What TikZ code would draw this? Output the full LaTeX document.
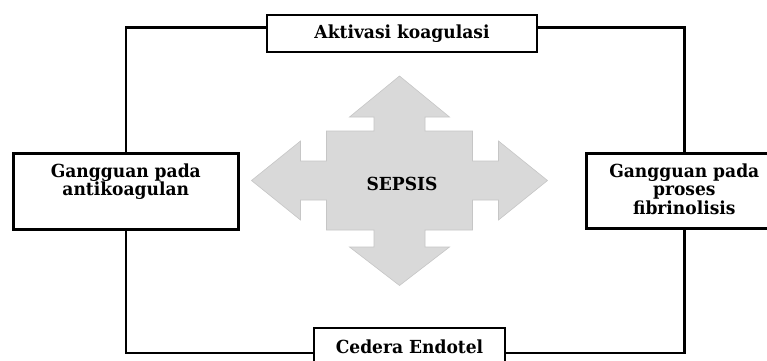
\documentclass[tikz,border=0pt]{standalone}
\usepackage{fontspec}
\setmainfont{DejaVu Serif}[FakeStretch=0.95]
\definecolor{sepsisgray}{RGB}{217,217,217}
\begin{document}
\begin{tikzpicture}[x=1pt,y=-1pt,
  box/.style={draw, line width=2.6pt, fill=white, inner sep=0pt},
  conn/.style={line width=2.6pt},
  lbl/.style={font=\fontsize{18}{18.5}\selectfont\bfseries}]
\useasboundingbox (0,0) rectangle (767,360);
\clip (0,0) rectangle (767,360);
\fill[white] (0,0) rectangle (767,360);
% central four-way arrow
\begin{scope}[shift={(399.5,180.5)}]
\fill[sepsisgray, draw=gray!45, line width=0.6pt]
  (0,-104.5) -- (50,-63.5) -- (25.5,-63.5) -- (25.5,-49.5) -- (73,-49.5) -- (73,-19.5)
  -- (99,-19.5) -- (99,-39.5) -- (148,0) -- (99,39.5) -- (99,19.5) -- (73,19.5)
  -- (73,49.5) -- (25.5,49.5) -- (25.5,66.5) -- (50,66.5) -- (0,105) -- (-50,66.5)
  -- (-25.5,66.5) -- (-25.5,49.5) -- (-73,49.5) -- (-73,19.5) -- (-99,19.5)
  -- (-99,39.5) -- (-148,0) -- (-99,-39.5) -- (-99,-19.5) -- (-73,-19.5)
  -- (-73,-49.5) -- (-25.5,-49.5) -- (-25.5,-63.5) -- (-50,-63.5) -- cycle;
\end{scope}
\node[lbl] (sepsis) at (402,184) {SEPSIS};
% boxes
\node[box, lbl, minimum width=270pt, minimum height=37pt] (top) at (402,33.5) {Aktivasi koagulasi};
\node[box, lbl, anchor=north west] (left) at (12,152)
  {\parbox[c][76pt][t]{225pt}{\centering\rule{0pt}{24pt}Gangguan pada\\antikoagulan}};
\node[box, lbl, anchor=north west] (right) at (585,152)
  {\parbox[c][75pt][t]{196pt}{\centering\rule{0pt}{24pt}Gangguan pada\\proses\\fibrinolisis}};
\node[box, lbl, minimum width=191pt, minimum height=37pt] (bot) at (409.5,346.5) {Cedera Endotel};
% connectors
\draw[conn] ([yshift=6pt]top.west) -| (left.north);
\draw[conn] ([yshift=6pt]top.east) -| (right.north);
\draw[conn] (left.south) |- ([yshift=-6.5pt]bot.west);
\draw[conn] (right.south) |- ([yshift=-6.5pt]bot.east);
\end{tikzpicture}
\end{document}
